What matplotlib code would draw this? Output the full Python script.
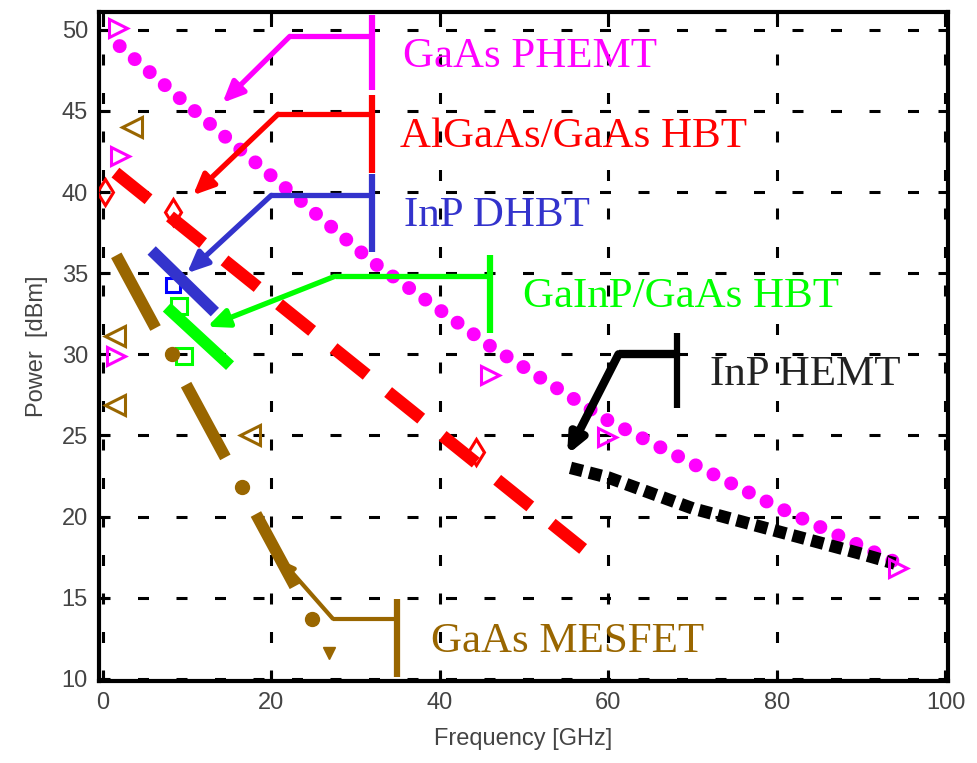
import matplotlib.pyplot as plt

plt.rcParams["font.family"] = "Liberation Sans"

# GaAs PHEMT (dotted magenta curve + open triangles)
phemt_f = [2.0, 10.0, 20.0, 32.0, 46.0, 60.0, 80.0, 94.0]
phemt_p = [49.0, 45.4, 41.0, 35.7, 30.5, 25.9, 20.6, 17.2]
phemt_mark_f = [1.8, 2.0, 1.6, 46.0, 59.8, 94.4]
phemt_mark_p = [50.1, 42.2, 29.9, 28.7, 24.9, 16.8]

# AlGaAs/GaAs HBT (dashed red line + open markers)
hbt_f = [1.5, 57.0]
hbt_p = [41.2, 18.0]
hbt_mark_f = [0.3, 8.3, 44.3]
hbt_mark_p = [40.0, 38.8, 24.0]

# InP DHBT
dhbt_f = [5.8, 13.3]
dhbt_p = [36.4, 32.6]
dhbt_mark_f = [8.3]
dhbt_mark_p = [34.3]

# GaInP/GaAs HBT
gainp_f = [7.6, 15.1]
gainp_p = [32.9, 29.3]
gainp_mark_f = [9.1, 9.6]
gainp_mark_p = [33.0, 29.9]

# GaAs MESFET
mesfet_f = [1.6, 22.8]
mesfet_p = [36.1, 15.7]
mesfet_dot_f = [8.2, 16.5, 24.8]
mesfet_dot_p = [30.0, 21.8, 13.7]
mesfet_small_f = [26.9]
mesfet_small_p = [11.6]
mesfet_tri_f = [3.5, 1.4, 1.4, 17.5]
mesfet_tri_p = [44.0, 31.1, 26.9, 25.0]

# InP HEMT
hemt_f = [55.5, 60.0, 70.0, 80.0, 90.0, 94.0]
hemt_p = [23.0, 22.4, 20.5, 19.1, 17.7, 17.1]

# call-out labels
labels = ["GaAs PHEMT", "AlGaAs/GaAs HBT", "InP DHBT", "GaInP/GaAs HBT", "InP HEMT", "GaAs MESFET"]
label_f = [35.6, 35.3, 35.7, 49.9, 72.1, 39.0]
label_p = [47.7, 42.8, 37.9, 32.9, 28.1, 11.65]
tip_f = [14.2, 10.7, 10.0, 12.4, 55.1, 21.2]
tip_p = [45.5, 39.8, 35.0, 31.7, 23.8, 17.3]
knee_f = [22.2, 20.8, 20.0, 27.5, 61.2, 27.3]
knee_p = [49.6, 44.8, 39.8, 34.8, 30.0, 13.7]
bar_f = [31.9, 31.9, 31.9, 45.9, 68.2, 34.9]
bar_lo = [46.3, 41.2, 36.3, 31.3, 26.7, 10.1]
bar_hi = [50.9, 46.0, 41.1, 36.1, 31.3, 14.9]

MAGENTA = '#ff00ff'
RED = '#ff0000'
BLUE = '#3333cc'
GREEN = '#00ff00'
BLACK = '#000000'
BROWN = '#996600'
label_colors = [MAGENTA, RED, BLUE, GREEN, '#222222', BROWN]
callout_colors = [MAGENTA, RED, BLUE, GREEN, BLACK, BROWN]
callout_lw = [3.8, 3.8, 3.8, 3.8, 6.0, 3.0]
head_scale = [14, 14, 14, 14, 12, 8]

fig = plt.figure(figsize=(9.78, 7.63), dpi=100)
ax = fig.add_axes([99 / 978, 1 - 681 / 763, (948 - 99) / 978, (681 - 12) / 763])

# series
ax.plot(phemt_f, phemt_p, color=MAGENTA, lw=10.0, dashes=(0.01, 1.42),
        dash_capstyle='round', zorder=3)
ax.plot(phemt_mark_f, phemt_mark_p, ls='none', marker='>', ms=13, mew=2.2,
        mfc='none', mec=MAGENTA, zorder=4)

ax.plot(hbt_f, hbt_p, color=RED, lw=9.0, dashes=(3.4, 2.2), zorder=3)
ax.plot(hbt_mark_f, hbt_mark_p, ls='none', marker='d', ms=13, mew=2.2,
        mfc='none', mec=RED, zorder=4)

ax.plot(dhbt_f, dhbt_p, color=BLUE, lw=8.5, solid_capstyle='butt', zorder=3)
ax.plot(dhbt_mark_f, dhbt_mark_p, ls='none', marker='s', ms=10, mew=2.2,
        mfc='none', mec='#0000ff', zorder=2)

ax.plot(gainp_f, gainp_p, color=GREEN, lw=8.5, solid_capstyle='butt', zorder=3)
ax.plot(gainp_mark_f, gainp_mark_p, ls='none', marker='s', ms=11, mew=2.2,
        mfc='none', mec=GREEN, zorder=4)

ax.plot(mesfet_f, mesfet_p, color=BROWN, lw=8.5, dashes=(7.0, 5.45), zorder=3)
ax.plot(mesfet_dot_f, mesfet_dot_p, ls='none', marker='o', ms=10,
        color=BROWN, zorder=4)
ax.plot(mesfet_small_f, mesfet_small_p, ls='none', marker='v', ms=8,
        color=BROWN, zorder=4)
ax.plot(mesfet_tri_f, mesfet_tri_p, ls='none', marker='<', ms=14, mew=2.2,
        mfc='none', mec=BROWN, zorder=4)

ax.plot(hemt_f, hemt_p, color=BLACK, lw=9.0, dashes=(1.0, 0.55), zorder=3)

# call-outs
for i in range(len(labels)):
    c = callout_colors[i]
    ax.annotate('', xy=(tip_f[i], tip_p[i]), xytext=(knee_f[i], knee_p[i]),
                arrowprops=dict(arrowstyle='-|>,head_length=0.9,head_width=0.4',
                                mutation_scale=head_scale[i], lw=callout_lw[i],
                                color=c, shrinkA=0, shrinkB=0), zorder=5)
    ax.plot([knee_f[i], bar_f[i]], [knee_p[i], knee_p[i]], color=c,
            lw=callout_lw[i], solid_capstyle='butt', zorder=5)
    ax.plot([bar_f[i], bar_f[i]], [bar_lo[i], bar_hi[i]], color=c, lw=4.5,
            solid_capstyle='butt', zorder=5)
    ax.text(label_f[i], label_p[i], labels[i], color=label_colors[i],
            fontsize=31, family='Liberation Serif', ha='left', va='baseline',
            zorder=6)

# axes
ax.set_xlim(-0.45, 100.3)
ax.set_ylim(9.86, 51.1)
ax.set_xticks(range(0, 101, 20))
ax.set_yticks(range(10, 51, 5))
ax.grid(True, color='black', lw=2.2, linestyle=(0, (3.6, 9)))
ax.set_axisbelow(True)
ax.tick_params(direction='in', length=7, width=2.2, top=True, right=True,
               labelsize=17, labelcolor='#444444', pad=8)
for s in ax.spines.values():
    s.set_linewidth(3)

ax.set_xlabel('Frequency [GHz]', fontsize=17, color='#444444', labelpad=10)
ax.set_ylabel('Power  [dBm]', fontsize=17, color='#444444', labelpad=10)

fig.savefig('out.png', dpi=100)
